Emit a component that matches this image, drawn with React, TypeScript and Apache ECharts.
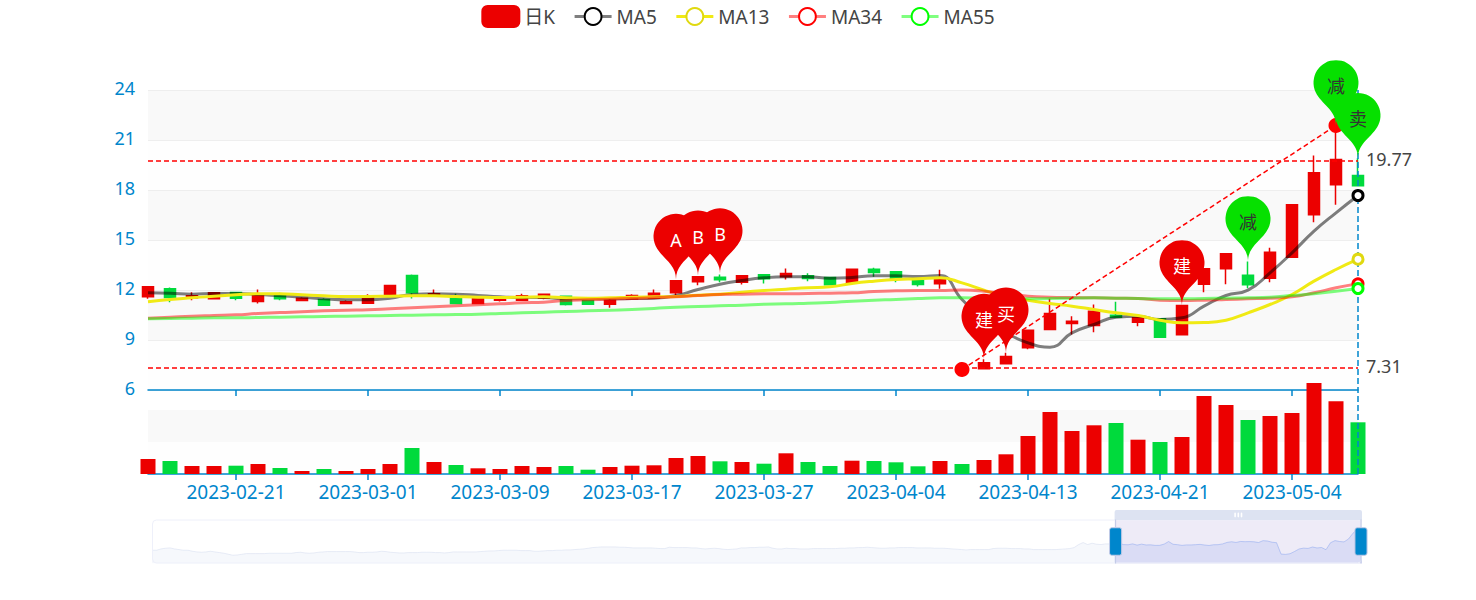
import React, { useEffect, useRef } from "react";
import * as echarts from "echarts";

const visibleDates = [
  "2023-02-15","2023-02-16","2023-02-17","2023-02-20","2023-02-21","2023-02-22","2023-02-23","2023-02-24",
  "2023-02-27","2023-02-28","2023-03-01","2023-03-02","2023-03-03","2023-03-06","2023-03-07","2023-03-08",
  "2023-03-09","2023-03-10","2023-03-13","2023-03-14","2023-03-15","2023-03-16","2023-03-17","2023-03-20",
  "2023-03-21","2023-03-22","2023-03-23","2023-03-24","2023-03-27","2023-03-28","2023-03-29","2023-03-30",
  "2023-03-31","2023-04-03","2023-04-04","2023-04-06","2023-04-07","2023-04-10","2023-04-11","2023-04-12",
  "2023-04-13","2023-04-14","2023-04-17","2023-04-18","2023-04-19","2023-04-20","2023-04-21","2023-04-24",
  "2023-04-25","2023-04-26","2023-04-27","2023-04-28","2023-05-04","2023-05-05","2023-05-08","2023-05-09",
];

// [open, close, low, high]
const visibleCandles = [
  [11.59,12.19,11.47,12.19],[12.07,11.55,11.27,12.15],[11.53,11.65,11.39,11.87],[11.47,11.83,11.45,11.83],
  [11.85,11.51,11.39,11.85],[11.31,11.67,11.19,12.03],[11.73,11.47,11.39,11.83],[11.37,11.51,11.33,11.57],
  [11.43,11.09,11.09,11.51],[11.19,11.29,11.15,11.37],[11.21,11.57,11.21,11.75],[11.73,12.27,11.73,12.27],
  [12.87,11.83,11.49,12.93],[11.67,11.77,11.63,12.03],[11.51,11.19,11.19,11.77],[11.19,11.47,11.15,11.51],
  [11.39,11.51,11.31,11.59],[11.39,11.65,11.39,11.77],[11.51,11.75,11.45,11.75],[11.63,11.13,11.07,11.63],
  [11.35,11.15,11.15,11.35],[11.15,11.39,10.93,11.51],[11.47,11.67,11.43,11.75],[11.51,11.81,11.51,12.03],
  [11.83,12.55,11.69,12.55],[12.49,12.79,12.29,12.79],[12.77,12.61,12.47,12.93],[12.47,12.85,12.33,12.85],
  [12.91,12.67,12.39,12.95],[12.79,12.99,12.63,13.29],[12.85,12.69,12.53,13.01],[12.75,12.31,12.31,12.75],
  [12.43,13.25,12.43,13.25],[13.25,13.05,12.79,13.33],[13.09,12.71,12.47,13.09],[12.57,12.33,12.21,12.57],
  [12.37,12.67,12.07,13.21],[7.41,7.21,7.21,7.45],[7.27,7.63,7.27,7.85],[7.57,8.01,7.57,8.23],
  [8.53,9.59,8.45,9.59],[9.63,10.59,9.63,11.47],[9.99,10.13,9.33,10.43],[9.87,10.73,9.47,11.13],
  [10.49,10.37,10.37,11.29],[10.07,10.33,9.83,10.33],[10.27,9.17,9.17,10.27],[9.31,11.07,9.31,11.07],
  [12.35,13.27,11.87,13.27],[13.27,14.17,12.35,14.17],[12.89,12.31,12.11,13.71],[12.71,14.27,12.47,14.53],
  [13.97,17.11,13.97,17.11],[16.51,19.03,16.07,20.07],[18.31,19.83,17.11,21.87],[18.87,18.25,18.25,19.9],
];

const volumes = [
  15,13,8,8,8.3,10,6,3,5,3,5,10,26,12,9,5.7,5,8,7,8,4.3,7,8.3,8.7,16,18,12.7,12,
  10.3,20.7,12,8,13.3,13,11.7,7.7,13,10,14,19.7,38,62,43,48.7,51,34.3,32,37,78,69,54,58,61,91,72.7,51.7,
];

const ma5 = [
  11.83,11.81,11.75,11.79,11.79,11.73,11.65,11.57,11.47,11.41,11.41,11.51,11.73,11.77,11.75,11.67,11.59,11.55,11.55,11.47,
  11.49,11.47,11.49,11.51,11.67,12.03,12.35,12.57,12.73,12.79,12.79,12.71,12.75,12.85,12.85,12.81,12.87,11.43,10.23,9.43,
  8.83,8.57,9.43,9.93,10.37,10.43,10.23,10.33,11.03,11.67,11.99,13.03,14.23,15.53,16.63,17.67,
];
const ma13 = [
  11.29,11.43,11.53,11.63,11.71,11.77,11.77,11.71,11.65,11.61,11.61,11.63,11.65,11.65,11.61,11.57,11.55,11.57,11.59,11.53,
  11.51,11.53,11.57,11.59,11.61,11.69,11.75,11.87,11.97,12.05,12.13,12.19,12.39,12.53,12.63,12.67,12.73,12.43,11.99,11.63,
  11.39,11.19,11.03,10.83,10.63,10.47,10.19,10.03,10.05,10.19,10.63,11.13,11.73,12.53,13.23,13.85,
];
const ma34 = [
  10.31,10.37,10.43,10.47,10.51,10.59,10.65,10.69,10.75,10.79,10.81,10.87,10.93,10.99,11.05,11.11,11.17,11.23,11.27,11.37,
  11.41,11.45,11.49,11.53,11.59,11.67,11.73,11.75,11.77,11.77,11.79,11.81,11.83,11.91,11.95,11.97,11.97,12.0,11.93,11.77,
  11.63,11.57,11.55,11.53,11.51,11.49,11.39,11.37,11.39,11.43,11.47,11.51,11.59,11.83,12.13,12.37,
];
const ma55 = [
  10.27,10.29,10.31,10.33,10.33,10.35,10.37,10.39,10.41,10.43,10.45,10.47,10.49,10.51,10.53,10.55,10.59,10.63,10.67,10.71,
  10.75,10.79,10.83,10.89,10.97,11.01,11.05,11.09,11.15,11.17,11.21,11.25,11.33,11.39,11.43,11.49,11.53,11.53,11.51,11.49,
  11.47,11.49,11.51,11.53,11.51,11.49,11.47,11.47,11.49,11.51,11.53,11.57,11.67,11.77,11.93,12.09,
];

// Opening prices before the visible window, only seen in the slider's shadow.
const historyOpens = [
  9.08,9.08,9.66,9.95,10.10,9.66,9.37,9.08,9.08,8.64,
  8.35,8.21,8.35,8.64,8.35,8.06,7.77,7.33,6.90,7.04,
  7.33,7.62,7.62,7.62,7.62,7.62,7.77,7.77,7.77,7.77,
  7.77,7.77,8.06,8.21,7.91,7.77,7.91,8.21,8.35,8.50,
  8.50,8.50,8.50,8.50,8.50,8.35,8.06,8.06,8.21,8.21,
  8.35,8.64,8.50,8.21,8.06,7.91,7.91,8.06,8.06,8.06,
  8.21,8.21,8.21,8.06,8.06,7.91,8.06,8.35,8.35,8.35,
  8.35,8.35,8.35,8.50,8.64,8.79,8.79,8.93,9.08,9.08,
  9.08,9.08,8.93,8.93,8.93,8.64,8.64,8.79,8.93,8.93,
  9.08,9.08,9.22,9.22,9.37,9.52,9.66,9.95,10.24,10.39,
  10.53,10.53,10.53,10.53,10.39,10.39,10.24,10.10,10.10,10.10,
  10.10,10.10,9.95,9.81,9.81,10.39,10.24,10.24,10.24,10.24,
  10.10,10.10,9.81,9.66,9.81,9.95,9.81,9.52,9.37,9.52,
  9.66,10.10,10.10,10.24,10.24,10.39,10.39,10.53,9.95,9.66,
  9.66,9.95,9.81,9.81,9.66,9.66,9.66,9.81,9.81,9.81,
  9.81,9.81,9.81,9.95,9.95,10.10,10.10,10.24,10.24,10.39,
  10.24,10.10,9.95,9.95,10.10,10.10,10.24,10.24,10.24,10.24,
  10.10,10.10,10.10,10.10,9.95,9.95,9.95,9.81,9.66,9.52,
  9.37,9.22,9.37,9.37,9.37,9.37,9.37,9.81,9.95,9.95,
  9.95,9.81,9.81,9.81,9.66,9.66,9.37,9.37,9.37,9.37,
  9.37,9.37,9.52,9.66,9.81,10.24,11.55,12.43,11.55,12.14,
  11.70,11.55,11.85,11.85,
];

const pins = [
  { date: "2023-03-21", price: 12.65, label: "A", kind: "up" },
  { date: "2023-03-22", price: 12.85, label: "B", kind: "up" },
  { date: "2023-03-23", price: 12.98, label: "B", kind: "up" },
  { date: "2023-04-11", price: 7.85, label: "建", kind: "up" },
  { date: "2023-04-12", price: 8.23, label: "买", kind: "up" },
  { date: "2023-04-24", price: 11.07, label: "建", kind: "up" },
  { date: "2023-04-27", price: 13.71, label: "减", kind: "down" },
  { date: "2023-05-08", price: 21.87, label: "减", kind: "down" },
  { date: "2023-05-09", price: 19.9, label: "卖", kind: "down" },
];
const levelLines = [7.31, 19.77];
const trendFrom = { date: "2023-04-10", price: 7.23 };
const trendTo = { date: "2023-05-08", price: 21.87 };

const RED = "#ec0000";
const GREEN = "#00da3c";
const BLUE = "#0086cc";
const FONT = '"Noto Sans", "Noto Sans CJK SC", sans-serif';
const HANDLE_ICON =
  "path://M-9.35,34.56V42m0-40V9.5m-3.5,0h7a2,2,0,0,1,2,2v21a2,2,0,0,1-2,2h-7a2,2,0,0,1-2-2v-21A2,2,0,0,1-12.85,9.5Z";

const historyDates: string[] = [];
{
  const d = new Date(Date.UTC(2023, 1, 14));
  while (historyDates.length < historyOpens.length) {
    if (d.getUTCDay() % 6 !== 0) historyDates.unshift(d.toISOString().slice(0, 10));
    d.setUTCDate(d.getUTCDate() - 1);
  }
}
const offset = historyDates.length;
const dates = [...historyDates, ...visibleDates];
const lastDate = visibleDates[visibleDates.length - 1];
const blanks = historyDates.map(() => null);
const candles = [...historyOpens.map((v) => [v, v, v, v]), ...visibleCandles];
const tickShown = (i: number) => i >= offset && (i - offset - 4) % 6 === 0;

const maSeries = (name: string, values: number[], color: string, lineColor: string, opacity: number) => ({
  name,
  type: "line",
  data: [...blanks, ...values],
  smooth: true,
  symbol: "emptyCircle",
  showSymbol: false,
  itemStyle: { color, borderWidth: 3 },
  lineStyle: { width: 3, color: lineColor, opacity },
  markPoint: {
    silent: true,
    symbol: "circle",
    symbolSize: 10,
    label: { show: false },
    itemStyle: { color: "#ffffff", borderColor: color, borderWidth: 3 },
    data: [{ coord: [lastDate, values[values.length - 1]] }],
  },
  z: 3,
});

const xAxisBase = {
  type: "category",
  data: dates,
  boundaryGap: false,
  axisLine: { show: true, onZero: false, lineStyle: { color: BLUE, width: 1.5 } },
  axisTick: { show: true, length: 6, interval: tickShown, lineStyle: { color: BLUE, width: 1.5 } },
  splitLine: { show: false },
};

const legendLine = { width: 3 };
const legendItem = { borderWidth: 3 };

export default function App() {
  const ref = useRef<HTMLDivElement>(null);
  useEffect(() => {
    const chart = echarts.init(ref.current!, null, { renderer: "svg" });
    chart.setOption({
      animation: false,
      textStyle: { fontFamily: FONT },
      legend: {
        top: 0,
        left: "center",
        itemWidth: 37,
        itemHeight: 21,
        itemGap: 18,
        textStyle: { fontSize: 19, color: "#444", fontFamily: FONT },
        data: [
          { name: "日K" },
          { name: "MA5", lineStyle: legendLine, itemStyle: legendItem },
          { name: "MA13", lineStyle: legendLine, itemStyle: legendItem },
          { name: "MA34", lineStyle: legendLine, itemStyle: legendItem },
          { name: "MA55", lineStyle: legendLine, itemStyle: legendItem },
        ],
      },
      grid: [
        { left: 148, right: 118, top: 90, height: 300 },
        { left: 148, right: 118, top: 410, height: 64 },
        { left: 148, right: 118, top: 90, height: 384 },
      ],
      xAxis: [
        { ...xAxisBase, gridIndex: 0, axisLabel: { show: false } },
        {
          ...xAxisBase,
          gridIndex: 1,
          axisLabel: {
            show: true,
            interval: tickShown,
            color: BLUE,
            fontSize: 19,
            margin: 8,
            fontFamily: FONT,
          },
        },
        { type: "category", data: dates, boundaryGap: false, gridIndex: 2, show: false },
      ],
      yAxis: [
        {
          type: "value",
          gridIndex: 0,
          min: 6,
          max: 24,
          interval: 3,
          axisLine: { show: false },
          axisTick: { show: false },
          axisLabel: {
            show: true,
            margin: 13,
            formatter: "{t|{value}}",
            rich: { t: { color: BLUE, fontSize: 18, fontFamily: FONT, padding: [0, 0, 4, 0] } },
          },
          splitLine: { show: true, lineStyle: { color: "#eeeeee", width: 1 } },
          splitArea: { show: true, areaStyle: { color: ["#fefefe", "#f9f9f9"] } },
        },
        {
          type: "value",
          gridIndex: 1,
          min: 0,
          max: 64,
          interval: 32,
          axisLine: { show: false },
          axisTick: { show: false },
          axisLabel: { show: false },
          splitLine: { show: false },
          splitArea: { show: true, areaStyle: { color: ["#fefefe", "#f9f9f9"] } },
        },
        { type: "value", gridIndex: 2, min: 0, max: 1, show: false },
      ],
      dataZoom: [
        {
          type: "slider",
          xAxisIndex: [0, 1, 2],
          startValue: offset,
          endValue: dates.length - 1,
          left: 148,
          right: 118,
          top: 510,
          height: 44,
          showDetail: false,
          borderColor: "#eef0fa",
          borderRadius: 4,
          fillerColor: "rgba(85,55,175,0.1)",
          handleIcon: HANDLE_ICON,
          handleStyle: { color: BLUE },
          moveHandleSize: 10,
          moveHandleStyle: { color: "#dde3f2", opacity: 1 },
          dataBackground: {
            lineStyle: { color: "#d2dbee", width: 0.5 },
            areaStyle: { color: "#d2dbee", opacity: 0.2 },
          },
          selectedDataBackground: {
            lineStyle: { color: "#8fb0f7", width: 0.5 },
            areaStyle: { color: "#8fb0f7", opacity: 0.2 },
          },
        },
      ],
      series: [
        {
          name: "日K",
          type: "candlestick",
          xAxisIndex: 0,
          yAxisIndex: 0,
          data: candles,
          barWidth: 11,
          clip: false,
          itemStyle: { color: RED, color0: GREEN, borderColor: RED, borderColor0: GREEN, borderColorDoji: RED, borderWidth: 1.5 },
          markPoint: {
            symbol: "pin",
            symbolSize: 75,
            label: { show: true, formatter: "{b}", fontSize: 18, fontFamily: FONT },
            data: pins.map((p) => ({
              name: p.label,
              coord: [p.date, p.price],
              itemStyle: { color: p.kind === "up" ? RED : "#06e000" },
              label: { color: p.kind === "up" ? "#fff" : "#333" },
            })),
          },
          markLine: {
            symbol: ["none", "none"],
            silent: true,
            lineStyle: { color: "#ff0000", type: [5, 3], width: 1.5 },
            label: { show: false },
            data: [
              ...levelLines.map((v) => ({
                yAxis: v,
                label: {
                  show: true,
                  position: "end",
                  distance: 8,
                  formatter: "{t|{c}}",
                  rich: { t: { color: "#444", fontSize: 18, fontFamily: FONT, padding: [0, 0, 4, 0] } },
                },
              })),
              [
                { coord: [trendFrom.date, trendFrom.price], symbol: "circle", symbolSize: 15, itemStyle: { color: "#ff0000" } },
                { coord: [trendTo.date, trendTo.price], symbol: "circle", symbolSize: 15, itemStyle: { color: "#ff0000" } },
              ],
            ],
          },
        },
        maSeries("MA5", ma5, "#000000", "#000000", 0.5),
        maSeries("MA13", ma13, "#e0d910", "#f0ea14", 1),
        maSeries("MA34", ma34, "#ff0000", "#ff0000", 0.5),
        maSeries("MA55", ma55, "#00ff00", "#00ff00", 0.5),
        {
          name: "成交量",
          type: "bar",
          xAxisIndex: 1,
          yAxisIndex: 1,
          barWidth: 15,
          clip: false,
          data: [
            ...blanks,
            ...volumes.map((v, i) => ({
              value: v,
              itemStyle: { color: visibleCandles[i][1] >= visibleCandles[i][0] ? RED : GREEN },
            })),
          ],
        },
        {
          name: "pointer",
          type: "line",
          xAxisIndex: 2,
          yAxisIndex: 2,
          data: dates.map(() => null),
          showSymbol: false,
          markLine: {
            symbol: ["none", "none"],
            silent: true,
            label: { show: false },
            lineStyle: { color: BLUE, type: "dashed", width: 1.5 },
            data: [{ xAxis: lastDate }],
          },
        },
      ],
    });
    return () => chart.dispose();
  }, []);
  return <div ref={ref} style={{ position: "absolute", left: 0, top: 0, width: 1476, height: 600 }} />;
}
